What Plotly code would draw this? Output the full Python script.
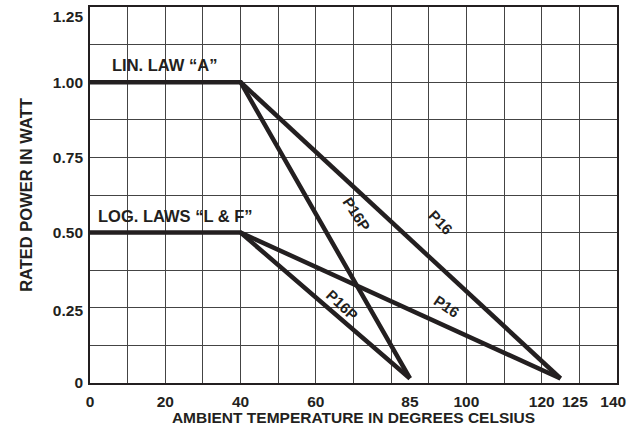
import plotly.graph_objects as go

# ---- data ----
lin_p16p_x = [0, 40, 85]
lin_p16p_y = [1.0, 1.0, 0.015]
lin_p16_x = [40, 125]
lin_p16_y = [1.0, 0.015]
log_p16p_x = [0, 40, 85]
log_p16p_y = [0.5, 0.5, 0.015]
log_p16_x = [40, 125]
log_p16_y = [0.5, 0.015]

x_tick_text = ["0", "20", "40", "60", "85", "100", "120", "125", "140"]
x_tick_pos = [0, 20, 40, 60, 85, 100, 120, 128.8, 139]
y_tick_text = ["0", "0.25", "0.50", "0.75", "1.00", "1.25"]
y_tick_pos = [0, 0.24, 0.5, 0.75, 1.0, 1.217]

labels = [
    ("LIN. LAW \u201cA\u201d", 19.9, 1.057, 0, 16.5),
    ("LOG. LAWS \u201cL & F\u201d", 22.8, 0.555, 0, 16.5),
    ("P16P", 70.9, 0.56, 57, 15),
    ("P16", 93.2, 0.532, 46, 15),
    ("P16P", 67.2, 0.259, 43, 15),
    ("P16", 94.8, 0.253, 34, 15),
]

INK = "#231f20"
FONT = "Liberation Sans, Arial, sans-serif"
GRID = "#444444"

fig = go.Figure()
for xs, ys in [(lin_p16p_x, lin_p16p_y), (lin_p16_x, lin_p16_y),
               (log_p16p_x, log_p16p_y), (log_p16_x, log_p16_y)]:
    fig.add_trace(go.Scatter(x=xs, y=ys, mode="lines",
                             line=dict(color=INK, width=4.5),
                             hoverinfo="skip", showlegend=False))
# empty traces to hold the labelled axes
fig.add_trace(go.Scatter(x=[], y=[], xaxis="x2", yaxis="y2", showlegend=False))

for text, x, y, ang, sz in labels:
    fig.add_annotation(x=x, y=y, text="<b>%s</b>" % text, showarrow=False,
                       textangle=ang, font=dict(family=FONT, size=sz, color=INK))

fig.update_layout(
    width=643, height=428,
    margin=dict(l=90, r=26, t=7, b=45),
    paper_bgcolor="white", plot_bgcolor="white",
    font=dict(family=FONT, color=INK),
    xaxis=dict(range=[0, 140], dtick=10, showgrid=True, gridcolor=GRID, gridwidth=1,
               showticklabels=False, zeroline=False, automargin=False,
               showline=True, linecolor=INK, linewidth=2, mirror=True),
    xaxis2=dict(range=[0, 140], overlaying="x", anchor="y", side="bottom",
                tickmode="array", tickvals=x_tick_pos, ticktext=x_tick_text,
                showgrid=False, zeroline=False, showline=False, automargin=False,
                ticklabeloverflow="allow",
                tickfont=dict(family=FONT, size=15.5, color=INK, weight="bold"),
                ticklabelstandoff=7,
                title=dict(text="<b>AMBIENT TEMPERATURE IN DEGREES CELSIUS</b>",
                           font=dict(family=FONT, size=15.5, color=INK), standoff=0)),
    yaxis=dict(range=[0, 1.25], dtick=0.125, showticklabels=False,
               showgrid=True, gridcolor=GRID, gridwidth=1, zeroline=False, automargin=False,
               showline=True, linecolor=INK, linewidth=2, mirror=True,
               title=dict(text="")),
    yaxis2=dict(range=[0, 1.25], overlaying="y", anchor="x", side="left",
                tickmode="array", tickvals=y_tick_pos, ticktext=y_tick_text,
                showgrid=False, zeroline=False, showline=False, automargin=False,
                ticklabeloverflow="allow",
                tickfont=dict(family=FONT, size=15.5, color=INK, weight="bold"),
                ticklabelstandoff=6,
                title=dict(text="<b>RATED POWER IN WATT</b>",
                           font=dict(family=FONT, size=16.5, color=INK), standoff=16)),
)

fig.write_html("out.html", config={"displayModeBar": False},
               post_script="document.body.style.margin='0';")
